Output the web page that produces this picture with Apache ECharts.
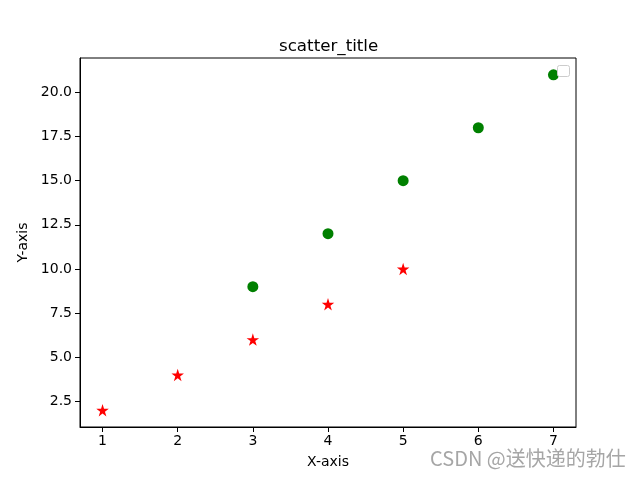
<!DOCTYPE html>
<html><head><meta charset="utf-8">
<script src="https://cdn.jsdelivr.net/npm/echarts@6/dist/echarts.min.js"></script>
<style>html,body{margin:0;padding:0;background:#fff}#c{width:640px;height:480px}</style>
</head><body><div id="c"></div>
<script>
const xTicks = [1, 2, 3, 4, 5, 6, 7];
const yTicks = [2.5, 5.0, 7.5, 10.0, 12.5, 15.0, 17.5, 20.0];
const starX = [1, 2, 3, 4, 5];
const starY = [2, 4, 6, 8, 10];
const circX = [3, 4, 5, 6, 7];
const circY = [9, 12, 15, 18, 21];

const font = 'DejaVu Sans';
const chart = echarts.init(document.getElementById('c'), null, {renderer: 'canvas'});
const starPath = 'path://M0,-1 L0.2245,-0.309 L0.951,-0.309 L0.363,0.118 L0.588,0.809 L0,0.382 L-0.588,0.809 L-0.363,0.118 L-0.951,-0.309 L-0.2245,-0.309 Z';
chart.setOption({
  animation: false,
  title: {text: 'scatter_title', left: 274, top: 33,
    textStyle: {fontFamily: font, fontSize: 16.7, fontWeight: 'normal', color: '#000'}},
  grid: {left: 80, right: 64, top: 58, bottom: 53, show: true, borderColor: '#000', borderWidth: 1},
  xAxis: {type: 'value', min: 0.7, max: 7.3, name: 'X-axis', nameLocation: 'middle', nameGap: 28,
    nameTextStyle: {fontFamily: font, fontSize: 14, color: '#000'},
    splitLine: {show: false},
    axisLine: {show: true, lineStyle: {color: '#000'}},
    axisTick: {show: true, length: 5, lineStyle: {color: '#000'}, customValues: xTicks},
    axisLabel: {fontFamily: font, fontSize: 14, color: '#000', margin: 7, customValues: xTicks,
      formatter: v => String(v)}},
  yAxis: {type: 'value', min: 1.05, max: 21.95, name: 'Y-axis', nameLocation: 'middle', nameGap: 42,
    nameRotate: 90,
    nameTextStyle: {fontFamily: font, fontSize: 14, color: '#000'},
    splitLine: {show: false},
    axisLine: {show: true, lineStyle: {color: '#000'}},
    axisTick: {show: true, length: 5, lineStyle: {color: '#000'}, customValues: yTicks},
    axisLabel: {fontFamily: font, fontSize: 14, color: '#000', margin: 8, customValues: yTicks,
      formatter: v => v.toFixed(1)}},
  series: [
    {type: 'scatter', symbol: starPath, symbolSize: 12.5, itemStyle: {color: '#ff0000', opacity: 1},
      data: starX.map((x, i) => [x, starY[i]])},
    {type: 'scatter', symbol: 'circle', symbolSize: 11, itemStyle: {color: '#008000', opacity: 1},
      data: circX.map((x, i) => [x, circY[i]])}
  ],
  graphic: [
    {type: 'rect', shape: {x: 557.5, y: 65.5, width: 12, height: 11, r: 2},
      style: {fill: '#fff', stroke: '#cccccc', lineWidth: 1}, z: 100},
    {type: 'text', left: 430, top: 448,
      style: {text: 'CSDN @送快递的勃仕', fontFamily: 'Noto Sans CJK SC', fontSize: 20, fill: '#a6a6a6'}, z: 100}
  ]
});
</script></body></html>
